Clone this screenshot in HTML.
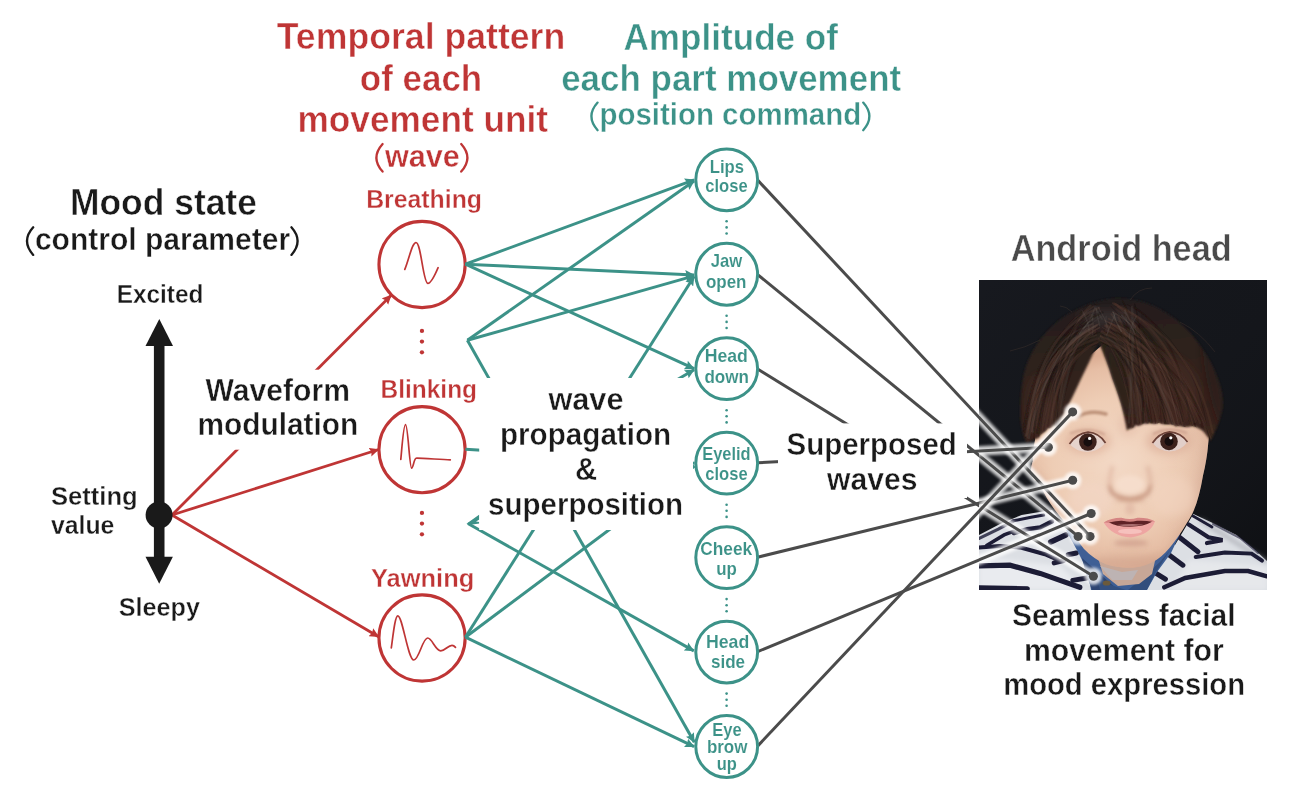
<!DOCTYPE html>
<html>
<head>
<meta charset="utf-8">
<title>Android mood expression diagram</title>
<style>
  html, body { margin: 0; padding: 0; background: #ffffff; }
  body { width: 1298px; height: 807px; overflow: hidden; font-family: "Liberation Sans", sans-serif; }
  svg { display: block; }
  text { font-family: "Liberation Sans", sans-serif; font-weight: bold; stroke: #ffffff; stroke-linejoin: round; }
  .red { fill: #bf3535; }
  .teal { fill: #3c9288; }
  .blk { fill: #1a1a1a; }
  .gry { fill: #4a4a4a; }
  .rl { stroke: #bf3535; stroke-width: 2.8; fill: none; }
  .tl { stroke: #3c9288; stroke-width: 3; fill: none; }
  .gl { stroke: #4b4b4b; stroke-width: 3; fill: none; stroke-linecap: butt; }
  .rc { stroke: #bf3535; stroke-width: 3.1; fill: #ffffff; }
  .tc { stroke: #3c9288; stroke-width: 3; fill: #ffffff; }
  .wv { stroke: #bf3535; stroke-width: 1.7; fill: none; stroke-linecap: round; stroke-linejoin: round; }
</style>
</head>
<body>
<svg width="1298" height="807" viewBox="0 0 1298 807">
  <defs>
    <marker id="ar" viewBox="0 0 10 10" refX="9.4" refY="5" markerWidth="9.6" markerHeight="9.6" markerUnits="userSpaceOnUse" orient="auto">
      <path d="M0,0.2 L10,5 L0,9.8 L1.6,5 Z" fill="#bf3535"/>
    </marker>
    <marker id="at" viewBox="0 0 10 10" refX="9.4" refY="5" markerWidth="9.6" markerHeight="9.6" markerUnits="userSpaceOnUse" orient="auto">
      <path d="M0,0.2 L10,5 L0,9.8 L1.6,5 Z" fill="#3c9288"/>
    </marker>

    <linearGradient id="bgv" x1="0" y1="0" x2="1" y2="1">
      <stop offset="0" stop-color="#181a20" stop-opacity="0.8"/>
      <stop offset="0.5" stop-color="#15171c" stop-opacity="0.3"/>
      <stop offset="1" stop-color="#0d0e11" stop-opacity="0.85"/>
    </linearGradient>
    <radialGradient id="skin" gradientUnits="userSpaceOnUse" cx="1118" cy="462" r="108">
      <stop offset="0" stop-color="#f3d9c6"/>
      <stop offset="0.6" stop-color="#eecdb5"/>
      <stop offset="0.88" stop-color="#e6bea5"/>
      <stop offset="1" stop-color="#dbad93"/>
    </radialGradient>
    <linearGradient id="skinShade" gradientUnits="userSpaceOnUse" x1="1165" y1="0" x2="1212" y2="0">
      <stop offset="0" stop-color="#c9a394" stop-opacity="0"/>
      <stop offset="1" stop-color="#c29c8c" stop-opacity="0.16"/>
    </linearGradient>
    <linearGradient id="hairG" gradientUnits="userSpaceOnUse" x1="1110" y1="298" x2="1125" y2="440">
      <stop offset="0" stop-color="#231f1d"/>
      <stop offset="0.3" stop-color="#2c201b"/>
      <stop offset="1" stop-color="#3a251e"/>
    </linearGradient>
    <filter id="soft05" x="-10%" y="-10%" width="120%" height="120%"><feGaussianBlur stdDeviation="0.5"/></filter>
    <filter id="soft1" x="-10%" y="-10%" width="120%" height="120%"><feGaussianBlur stdDeviation="0.9"/></filter>
    <filter id="soft2" x="-30%" y="-30%" width="160%" height="160%"><feGaussianBlur stdDeviation="2.2"/></filter>
    <filter id="soft3" x="-40%" y="-40%" width="180%" height="180%"><feGaussianBlur stdDeviation="4"/></filter>
    <clipPath id="faceClip"><path d="M1042,396 C1037,412 1035.5,428 1035,440 C1033,450 1032,458 1033,466 C1034,474 1037,480 1041,487 C1045,495 1049,502 1054.8,509.8 C1060,517 1066,524 1071.6,530 C1076,537.5 1079.5,543.5 1084,549 C1091,556 1098,561 1106,564.2 C1115,567 1124,568 1133,567.8 C1142,567 1150,564 1157,559.5 C1163,555.5 1168,550 1173,543.5 C1178,537 1182,531 1185,526 C1188,521 1190,518 1192.2,514 C1197.5,503 1200.5,490 1203,475.6 C1205.5,465 1207.5,454 1208.2,443.7 L1214,396 L1120,330 Z"/></clipPath>
    <clipPath id="hairClip"><path d="M1026,442 C1021,430 1019.5,415 1020.6,403.7 C1021,392 1022,383 1024,374 C1026,364 1030,356 1034,349 C1039,340 1045,333 1052.5,326 C1060,319 1068,313.5 1077.6,309 C1088,304 1099,300 1111.8,298.8 C1123,298 1134,299 1143.8,302.2 C1156,306 1166,312 1175.7,319.3 C1185,327 1194,336 1200.8,346.7 C1208,357 1213,366 1216.7,376.3 C1220,385 1222,392 1222.4,399.1 C1223,406 1222,412 1220,417.4 C1218,425 1215,432 1210.5,441 L1207,436 C1203,430 1198,427.5 1192,426 C1186,429 1181,424.5 1176,426.5 C1171,422 1165,426.5 1159,422.5 C1154,426 1150,421.5 1146.5,424 C1143,422 1139.5,428 1136,425 C1133,430 1129.5,427 1127,431 C1125.5,423 1124.5,418 1123.3,413 C1120.5,401 1116.5,390 1112.2,378.6 C1108.5,366 1103.5,353 1098.5,342 C1092,356 1086,369 1080,381 C1075,392 1071.5,399 1069,404 C1065,412 1061,420 1057,427 C1054,423 1051,430 1048,428 C1045,434 1041,432 1039,438 C1035,438 1030,443 1026,442 Z"/></clipPath>
    <clipPath id="photoClip"><rect x="979" y="280" width="288" height="310"/></clipPath>
    <filter id="glow" x="-10%" y="-10%" width="120%" height="120%"><feGaussianBlur stdDeviation="1.7"/></filter>

  </defs>
  <rect x="0" y="0" width="1298" height="807" fill="#ffffff"/>

  <g id="red-lines">
    <line class="rl" x1="172" y1="515" x2="391.2" y2="295.2" marker-end="url(#ar)"/>
    <line class="rl" x1="172" y1="515" x2="378.6" y2="449.5" marker-end="url(#ar)"/>
    <line class="rl" x1="172" y1="515" x2="378.6" y2="636.8" marker-end="url(#ar)"/>
  </g>
  <g id="units">
    <circle class="rc" cx="422.05" cy="264.5" r="43.1"/>
    <circle class="rc" cx="422.05" cy="449.7" r="43.1"/>
    <circle class="rc" cx="422.05" cy="638.0" r="43.1"/>
    <path class="wv" d="M404.8,269.4 C409,259 412,243 415.9,242.5 C421,242 423,282 427.7,283.3 C431,284 435,275 438.1,267.7"/>
    <path class="wv" d="M400.8,459.4 C402,447 403.5,424.7 405.5,424.7 C408,424.7 409.5,468 411.6,468.1 C413.2,468.2 414,458.2 416.4,458.2 C420,458 440,459.5 450.3,459.9"/>
    <path class="wv" d="M391.3,647.9 C393,636 395,615.8 397.8,615.8 C402.5,615.8 408,660 413.8,660 C419,660 422.5,638 427.7,638 C432,638 435.5,650.8 440.7,650.8 C445,650.8 448,645.3 452,645.3 C453.6,645.3 454.6,646.3 455.5,647.4"/>
    <g fill="#bf3535">
      <circle cx="421.95" cy="330.9" r="2.15"/>
      <circle cx="421.95" cy="341.6" r="2.15"/>
      <circle cx="421.95" cy="352.3" r="2.15"/>
      <circle cx="421.95" cy="512.9" r="2.15"/>
      <circle cx="421.95" cy="523.6" r="2.15"/>
      <circle cx="421.95" cy="534.3" r="2.15"/>
    </g>
  </g>
  <g id="teal-lines">
    <line class="tl" x1="465.4" y1="264.2" x2="694.1" y2="179.8" marker-end="url(#at)"/>
    <line class="tl" x1="465.4" y1="264.2" x2="694.1" y2="275.05" marker-end="url(#at)"/>
    <line class="tl" x1="465.4" y1="264.2" x2="694.1" y2="368.7" marker-end="url(#at)"/>
    <line class="tl" x1="467.4" y1="340.3" x2="694.1" y2="181.0" marker-end="url(#at)"/>
    <line class="tl" x1="467.4" y1="340.3" x2="694.1" y2="275.85" marker-end="url(#at)"/>
    <line class="tl" x1="467.4" y1="340.3" x2="694.3000000000001" y2="742.3" marker-end="url(#at)"/>
    <line class="tl" x1="465.4" y1="449.3" x2="694.6" y2="463.15"/>
    <line class="tl" x1="465.4" y1="637.2" x2="694.1" y2="276.45" marker-end="url(#at)"/>
    <line class="tl" x1="465.4" y1="637.2" x2="694.6" y2="465.95"/>
    <line class="tl" x1="465.4" y1="637.2" x2="694.1" y2="746.7" marker-end="url(#at)"/>
    <line class="tl" x1="467.9" y1="523.5" x2="693.8000000000001" y2="650.8499999999999" marker-end="url(#at)"/>
    <path d="M466.4,523.8 L479.4,514.6 L479.4,519.4 L476,521.6 L479.4,521.9 L479.4,523.6 L472.5,524.6 Z" fill="#3c9288"/>
    <line class="tl" x1="640" y1="401.5" x2="694.1" y2="369.7" marker-end="url(#at)"/>
  </g>
  <g id="grey-lines">
    <line class="gl" x1="757.5999999999999" y1="180.10000000000002" x2="1090.1" y2="536.4"/>
    <line class="gl" x1="757.5999999999999" y1="274.55" x2="1078.1" y2="536.4"/>
    <line class="gl" x1="757.5999999999999" y1="369.0" x2="1093.4" y2="576.2"/>
    <line class="gl" x1="757.5999999999999" y1="462.75" x2="1048.4" y2="447.3"/>
    <line class="gl" x1="757.5999999999999" y1="557.2" x2="1072.7" y2="480.3"/>
    <line class="gl" x1="757.5999999999999" y1="651.65" x2="1091.2" y2="513.5"/>
    <line class="gl" x1="757.5999999999999" y1="746.1" x2="1072.7" y2="411.9"/>
  </g>
  <rect x="195" y="369.7" width="166" height="80" fill="#ffffff"/>
  <rect x="479.2" y="378" width="213.8" height="152" fill="#ffffff"/>
  <rect x="778" y="423.4" width="189" height="74.6" fill="#ffffff"/>
  <g id="photo" clip-path="url(#photoClip)">
    <rect x="979" y="280" width="288" height="310" fill="#14161b"/>
    <rect x="979" y="280" width="288" height="310" fill="url(#bgv)"/>
    <path d="M979,535 L1000,524 L1021.6,515 L1042.5,511.6 L1052,510 L1080,545 L1175,545 L1193.4,514 L1213.2,523.3 L1236.5,534.9 L1253.9,548.9 L1267,561 L1267,590 L979,590 Z" fill="#dcdfe4"/>
    <g filter="url(#soft2)"><path d="M979,556 L1060,566 L1085,590 L979,590 Z" fill="#eceef1" opacity="0.8"/><path d="M1190,560 L1267,566 L1267,590 L1170,590 Z" fill="#e9ebee" opacity="0.7"/><path d="M1200,520 L1267,562" stroke="#9a9ca4" stroke-width="5" opacity="0.5"/></g>
    <g stroke="#1d1b36" stroke-width="3.6" fill="none" stroke-linecap="round" filter="url(#soft05)">
      <path d="M1012.3,521 L1029.7,517.5 L1043.7,515.1" stroke-width="3.00" opacity="1"/>
      <path d="M979.2,538.4 L998.3,529.1 L1013.4,521" stroke-width="3.25" opacity="0.8"/>
      <path d="M1014,533 L1027.4,529.1 L1040.2,527.4 L1051.9,521.5" stroke-width="4.50" opacity="1"/>
      <path d="M986.6,545.4 L1004.1,534.9 L1013.4,531.4" stroke-width="3.50" opacity="1"/>
      <path d="M1050.7,541.9 L1065.8,534.9" stroke-width="5.50" opacity="1"/>
      <path d="M979,547.5 L1000,546 L1021.6,547.7 L1044.9,554.2 L1058,560" stroke-width="4.00" opacity="1"/>
      <path d="M1068.2,554.7 L1076.3,553" stroke-width="5.00" opacity="1"/>
      <path d="M1054.2,562.9 L1063.5,560.6" stroke-width="5.00" opacity="1"/>
      <path d="M979.2,565.8 L1009.9,565.2 L1040.2,573.4 L1060,580.4 L1079.8,587.3" stroke-width="5.25" opacity="1"/>
      <path d="M1072.8,580.4 L1086.8,578" stroke-width="5.00" opacity="1"/>
      <path d="M979.2,587.8 L1027.4,588.7" stroke-width="5.00" opacity="1"/>
      <path d="M1188.7,524.5 L1208.5,537.3 L1222.5,540.2 L1207,543" stroke-width="4.25" opacity="1"/>
      <path d="M1193,516 L1212,527" stroke-width="2.75" opacity="1"/>
      <path d="M1179.4,537.3 L1198,551.8" stroke-width="5.00" opacity="1"/>
      <path d="M1168.9,554.7 L1182.9,565.2" stroke-width="5.00" opacity="1"/>
      <path d="M1156.1,573.4 L1165.4,579.2" stroke-width="5.00" opacity="1"/>
      <path d="M1195.7,557 L1224.8,552.4 L1251.6,553.6 L1262,560.6" stroke-width="4.00" opacity="1"/>
      <path d="M1164.3,587.3 L1185.2,578 L1224.8,571 L1248.1,571 L1267,576.3" stroke-width="4.50" opacity="1"/>
      <path d="M1213,524 L1240,538 L1258,553" stroke-width="2.00" opacity="0.6"/>
    </g>
    <path d="M1066,530 L1090,530 L1130,540 L1170,530 L1180,534 L1171,553 L1157,572 L1147,590 L1091,590 L1088,572 L1078,552 Z" fill="#3f5f95"/>
    <path d="M1082,558 L1100,574 L1118,590 L1092,590 L1086,574 Z" fill="#2c4472"/>
    <path d="M1146.8,590 L1156,572 L1170,550 L1160,562 L1140,580 L1128,590 Z" fill="#324e7d"/>
    <path d="M1094,545 L1116,555 L1135,557 L1158,548 L1152,574 L1139,584 L1118,586 L1103,574 Z" fill="#c7a797"/>
    <path d="M1100,566 L1122,572 L1138,570 L1132,580 L1112,580 Z" fill="#bdb3b3"/>
    <path d="M1096,574 L1108,584 L1126,590 L1100,590 Z" fill="#34507f"/>
    <ellipse cx="1106.6" cy="583" rx="4" ry="2.6" fill="#6b5a3c"/>
    <ellipse cx="1036" cy="470" rx="5" ry="11" fill="#e4bcaa"/>
    <g filter="url(#soft05)"><path d="M1042,396 C1037,412 1035.5,428 1035,440 C1033,450 1032,458 1033,466 C1034,474 1037,480 1041,487 C1045,495 1049,502 1054.8,509.8 C1060,517 1066,524 1071.6,530 C1076,537.5 1079.5,543.5 1084,549 C1091,556 1098,561 1106,564.2 C1115,567 1124,568 1133,567.8 C1142,567 1150,564 1157,559.5 C1163,555.5 1168,550 1173,543.5 C1178,537 1182,531 1185,526 C1188,521 1190,518 1192.2,514 C1197.5,503 1200.5,490 1203,475.6 C1205.5,465 1207.5,454 1208.2,443.7 L1214,396 L1120,330 Z" fill="url(#skin)"/></g>
    <g clip-path="url(#faceClip)">
      <path d="M1042,396 C1037,412 1035.5,428 1035,440 C1033,450 1032,458 1033,466 C1034,474 1037,480 1041,487 C1045,495 1049,502 1054.8,509.8 C1060,517 1066,524 1071.6,530 C1076,537.5 1079.5,543.5 1084,549 C1091,556 1098,561 1106,564.2 C1115,567 1124,568 1133,567.8 C1142,567 1150,564 1157,559.5 C1163,555.5 1168,550 1173,543.5 C1178,537 1182,531 1185,526 C1188,521 1190,518 1192.2,514 C1197.5,503 1200.5,490 1203,475.6 C1205.5,465 1207.5,454 1208.2,443.7 L1214,396 L1120,330 Z" fill="url(#skinShade)"/>
      <g filter="url(#soft3)">
        <ellipse cx="1132" cy="562" rx="42" ry="7" fill="#cfa28d" opacity="0.55"/>
        <ellipse cx="1045" cy="495" rx="7" ry="30" fill="#d2a590" opacity="0.5" transform="rotate(-26 1045 495)"/>
        <ellipse cx="1203" cy="480" rx="5" ry="42" fill="#cda28f" opacity="0.35" transform="rotate(8 1203 480)"/>
        <ellipse cx="1182" cy="537" rx="6" ry="22" fill="#d0a48d" opacity="0.4" transform="rotate(32 1182 537)"/>
        <ellipse cx="1088" cy="441" rx="23" ry="13" fill="#deb09a" opacity="0.7"/>
        <ellipse cx="1169" cy="441" rx="23" ry="13" fill="#dcae99" opacity="0.7"/>
        <ellipse cx="1128" cy="425" rx="10" ry="12" fill="#e3baa6" opacity="0.5"/>
        <ellipse cx="1090" cy="500" rx="22" ry="18" fill="#f3d7c6" opacity="0.55"/>
        <ellipse cx="1172" cy="496" rx="22" ry="20" fill="#f1d4c0" opacity="0.6"/>
      </g>
      <g filter="url(#soft2)">
        <path d="M1109.5,485 Q1110.5,495.5 1120,496.8 Q1130,500.5 1140,496.8 Q1149.5,495.5 1150.5,485" stroke="#bd8a74" stroke-width="3.4" fill="none" opacity="0.85"/>
        <ellipse cx="1130" cy="500" rx="15" ry="2.4" fill="#c9977f" opacity="0.55"/>
        <path d="M1112.5,466 Q1109.5,476 1109,487" stroke="#dcb19c" stroke-width="4.5" fill="none" opacity="0.55"/>
        <path d="M1147.5,466 Q1150.5,476 1151,487" stroke="#d7ab97" stroke-width="4.5" fill="none" opacity="0.55"/>
        <ellipse cx="1130" cy="484.5" rx="14.5" ry="9.5" fill="#f6decd" opacity="0.9"/>
        <ellipse cx="1130" cy="509" rx="5" ry="6" fill="#d6a996" opacity="0.45"/>
        <ellipse cx="1131" cy="543" rx="17" ry="3.6" fill="#cb9a88" opacity="0.65"/>
      </g>
    </g>
    <g filter="url(#soft1)">
      <path d="M1077,417 Q1090,409.5 1106,414" stroke="#b08269" stroke-width="3.4" fill="none" stroke-linecap="round" opacity="0.8"/>
      <path d="M1152,414 Q1170,409 1186,417" stroke="#a67c68" stroke-width="3" fill="none" stroke-linecap="round" opacity="0.45"/>
      <path d="M1070,433.5 Q1087,426 1105,434.5" stroke="#c39582" stroke-width="1.8" fill="none" opacity="0.7"/>
      <path d="M1153,434 Q1170,426 1187,433" stroke="#c09180" stroke-width="1.8" fill="none" opacity="0.7"/>
    </g>
    <g filter="url(#soft05)">
      <path d="M1069.5,444 Q1077,434 1088,433 Q1099,433.6 1105.5,443 Q1098,451.5 1087,452 Q1076,451.5 1069.5,444 Z" fill="#e6d3cc"/>
      <path d="M1152.5,443 Q1159,433.6 1169.5,432.6 Q1181,433.4 1187.5,442 Q1181,451 1169.5,451.5 Q1159,451 1152.5,443 Z" fill="#e2cfc9"/>
      <circle cx="1087.9" cy="442" r="8.8" fill="#3d211e"/><circle cx="1169" cy="441.4" r="8.8" fill="#3d211e"/>
      <circle cx="1087.9" cy="442" r="4.4" fill="#150909"/><circle cx="1169" cy="441.4" r="4.4" fill="#150909"/>
      <path d="M1069.5,444 Q1077,433.4 1088,432.2 Q1099,432.8 1105.5,443" stroke="#6d4238" stroke-width="1.7" fill="none"/>
      <path d="M1152.5,443 Q1159,433 1169.5,431.8 Q1181,432.6 1187.5,442" stroke="#6d4238" stroke-width="1.7" fill="none"/>
      <circle cx="1089.6" cy="438.4" r="1.6" fill="#ffffff"/><circle cx="1170.8" cy="437.8" r="1.6" fill="#ffffff"/>
    </g>
    <g filter="url(#soft05)">
      <path d="M1103.7,522.4 Q1112,518.6 1121.5,518.8 Q1130,521.4 1137.5,518.8 Q1147,518.2 1155,521.2 Q1151,534 1131,537.6 Q1112,536 1103.7,522.4 Z" fill="#eea5a2"/>
      <path d="M1103.7,522.4 Q1112,517.6 1121.5,517.8 Q1130,520.4 1137.5,517.8 Q1147,517.4 1155,521.2 Q1140,523.2 1130,523.2 Q1118,523.6 1103.7,522.4 Z" fill="#d58583"/>
      <path d="M1109,522.6 Q1118,520.4 1124,521 Q1130,522.4 1137,520.8 Q1146,520.4 1152,521.8 Q1144,526.6 1130,526.8 Q1116,526.8 1109,522.6 Z" fill="#5f2426"/>
      <path d="M1117,525 Q1130,523.4 1144,524.6 Q1130,527.8 1117,525 Z" fill="#b57a7b" opacity="0.85"/>
      <ellipse cx="1130" cy="531.4" rx="12" ry="2.6" fill="#f7c8c4" opacity="0.8"/>
    </g>
    <g filter="url(#soft1)"><path d="M1026,442 C1021,430 1019.5,415 1020.6,403.7 C1021,392 1022,383 1024,374 C1026,364 1030,356 1034,349 C1039,340 1045,333 1052.5,326 C1060,319 1068,313.5 1077.6,309 C1088,304 1099,300 1111.8,298.8 C1123,298 1134,299 1143.8,302.2 C1156,306 1166,312 1175.7,319.3 C1185,327 1194,336 1200.8,346.7 C1208,357 1213,366 1216.7,376.3 C1220,385 1222,392 1222.4,399.1 C1223,406 1222,412 1220,417.4 C1218,425 1215,432 1210.5,441 L1207,436 C1203,430 1198,427.5 1192,426 C1186,429 1181,424.5 1176,426.5 C1171,422 1165,426.5 1159,422.5 C1154,426 1150,421.5 1146.5,424 C1143,422 1139.5,428 1136,425 C1133,430 1129.5,427 1127,431 C1125.5,423 1124.5,418 1123.3,413 C1120.5,401 1116.5,390 1112.2,378.6 C1108.5,366 1103.5,353 1098.5,342 C1092,356 1086,369 1080,381 C1075,392 1071.5,399 1069,404 C1065,412 1061,420 1057,427 C1054,423 1051,430 1048,428 C1045,434 1041,432 1039,438 C1035,438 1030,443 1026,442 Z" fill="url(#hairG)"/></g>
    <g clip-path="url(#hairClip)">
      <g filter="url(#soft3)">
        <ellipse cx="1165" cy="392" rx="34" ry="38" fill="#4d3128" opacity="0.42" transform="rotate(-20 1165 392)"/>
        <ellipse cx="1040" cy="405" rx="12" ry="30" fill="#4b3129" opacity="0.5"/>
        <ellipse cx="1108" cy="318" rx="30" ry="8" fill="#48433f" opacity="0.45"/>
        <ellipse cx="1214" cy="385" rx="6" ry="45" fill="#211815" opacity="0.5" transform="rotate(-12 1214 385)"/>
        <ellipse cx="1060" cy="365" rx="8" ry="36" fill="#241a16" opacity="0.45" transform="rotate(24 1060 365)"/>
        <ellipse cx="1118" cy="380" rx="7" ry="40" fill="#2a1c17" opacity="0.55" transform="rotate(-17 1118 380)"/>
      </g>
      <g fill="none" stroke-linecap="round" filter="url(#soft05)">
        <path d="M1103.3,330.3 Q1126.2,349.9 1133.3,430.1" stroke="#1c1310" stroke-width="1.2" opacity="0.18"/>
        <path d="M1105.8,326.0 Q1132.9,353.7 1132.1,430.7" stroke="#573a2f" stroke-width="1.8" opacity="0.26"/>
        <path d="M1111.0,306.1 Q1139.3,332.9 1152.2,422.7" stroke="#1f1512" stroke-width="1.0" opacity="0.30"/>
        <path d="M1100.8,335.9 Q1159.2,359.8 1176.1,429.9" stroke="#65493e" stroke-width="1.6" opacity="0.38"/>
        <path d="M1104.9,326.0 Q1172.0,349.9 1194.8,422.0" stroke="#65493e" stroke-width="2.1" opacity="0.23"/>
        <path d="M1113.0,303.3 Q1174.8,327.7 1192.9,423.0" stroke="#5f4035" stroke-width="2.2" opacity="0.30"/>
        <path d="M1116.2,309.0 Q1164.6,343.2 1178.7,429.4" stroke="#4a3027" stroke-width="1.7" opacity="0.32"/>
        <path d="M1099.9,340.5 Q1184.4,364.9 1213.4,443.7" stroke="#65493e" stroke-width="0.8" opacity="0.27"/>
        <path d="M1100.6,332.8 Q1169.5,354.0 1193.8,422.7" stroke="#504944" stroke-width="0.9" opacity="0.27"/>
        <path d="M1118.2,322.5 Q1182.2,346.8 1202.2,426.5" stroke="#241914" stroke-width="2.5" opacity="0.20"/>
        <path d="M1101.3,333.5 Q1151.4,351.6 1169.2,429.4" stroke="#241914" stroke-width="1.8" opacity="0.31"/>
        <path d="M1102.9,331.7 Q1187.9,357.8 1209.7,438.2" stroke="#1c1310" stroke-width="1.5" opacity="0.26"/>
        <path d="M1101.1,335.3 Q1122.9,355.8 1132.9,424.9" stroke="#573a2f" stroke-width="1.0" opacity="0.30"/>
        <path d="M1118.7,321.8 Q1130.0,349.2 1133.1,424.9" stroke="#65493e" stroke-width="1.9" opacity="0.27"/>
        <path d="M1101.0,340.4 Q1149.6,364.5 1168.8,425.0" stroke="#4a3027" stroke-width="1.7" opacity="0.33"/>
        <path d="M1107.2,324.6 Q1152.6,354.3 1158.5,431.2" stroke="#4a3027" stroke-width="2.6" opacity="0.37"/>
        <path d="M1111.4,314.0 Q1136.4,347.2 1141.5,433.3" stroke="#65493e" stroke-width="1.9" opacity="0.31"/>
        <path d="M1124.2,309.4 Q1147.6,335.2 1147.8,427.0" stroke="#504944" stroke-width="1.4" opacity="0.17"/>
        <path d="M1098.6,339.5 Q1166.4,368.8 1187.2,435.7" stroke="#65493e" stroke-width="2.5" opacity="0.25"/>
        <path d="M1102.0,331.6 Q1140.9,360.5 1144.8,430.8" stroke="#504944" stroke-width="2.4" opacity="0.24"/>
        <path d="M1120.7,314.6 Q1149.2,348.5 1160.8,431.5" stroke="#241914" stroke-width="2.2" opacity="0.24"/>
        <path d="M1129.4,310.1 Q1158.5,337.5 1161.9,435.2" stroke="#1f1512" stroke-width="0.8" opacity="0.30"/>
        <path d="M1112.1,324.5 Q1169.4,346.2 1178.8,427.7" stroke="#1c1310" stroke-width="1.0" opacity="0.16"/>
        <path d="M1127.3,304.3 Q1194.5,340.5 1208.2,433.5" stroke="#19100e" stroke-width="0.9" opacity="0.21"/>
        <path d="M1114.7,321.4 Q1156.2,352.3 1174.4,433.4" stroke="#504944" stroke-width="2.0" opacity="0.36"/>
        <path d="M1116.2,324.1 Q1135.0,353.5 1138.4,423.6" stroke="#1f1512" stroke-width="1.9" opacity="0.35"/>
        <path d="M1100.4,336.9 Q1132.4,358.6 1137.5,422.3" stroke="#504944" stroke-width="2.2" opacity="0.19"/>
        <path d="M1108.6,318.8 Q1175.5,349.4 1194.2,428.8" stroke="#5f4035" stroke-width="1.6" opacity="0.31"/>
        <path d="M1111.3,323.4 Q1154.3,355.0 1166.4,428.6" stroke="#1c1310" stroke-width="2.4" opacity="0.39"/>
        <path d="M1105.2,334.5 Q1173.8,356.0 1200.1,423.2" stroke="#5f4035" stroke-width="2.0" opacity="0.26"/>
        <path d="M1102.4,331.4 Q1175.3,355.9 1194.6,435.7" stroke="#4a3027" stroke-width="2.4" opacity="0.39"/>
        <path d="M1106.5,332.8 Q1159.7,354.5 1169.4,435.8" stroke="#241914" stroke-width="2.6" opacity="0.26"/>
        <path d="M1107.3,323.1 Q1147.4,351.2 1158.8,425.6" stroke="#241914" stroke-width="1.4" opacity="0.31"/>
        <path d="M1105.1,324.9 Q1170.2,350.0 1195.6,436.3" stroke="#573a2f" stroke-width="2.4" opacity="0.20"/>
        <path d="M1124.4,314.6 Q1171.3,345.3 1185.8,435.4" stroke="#1c1310" stroke-width="1.8" opacity="0.33"/>
        <path d="M1099.2,339.6 Q1155.1,361.6 1164.0,421.2" stroke="#4a3027" stroke-width="1.0" opacity="0.37"/>
        <path d="M1100.4,339.1 Q1149.6,358.8 1156.5,429.1" stroke="#1f1512" stroke-width="0.9" opacity="0.33"/>
        <path d="M1134.7,304.0 Q1144.3,337.3 1142.8,435.8" stroke="#19100e" stroke-width="1.3" opacity="0.28"/>
        <path d="M1101.9,332.2 Q1141.9,354.9 1148.8,420.8" stroke="#19100e" stroke-width="1.7" opacity="0.22"/>
        <path d="M1111.6,325.5 Q1172.7,357.0 1184.1,429.0" stroke="#4a3027" stroke-width="2.0" opacity="0.40"/>
        <path d="M1110.1,329.9 Q1164.4,348.7 1182.3,426.7" stroke="#1f1512" stroke-width="0.8" opacity="0.31"/>
        <path d="M1119.2,305.0 Q1170.5,341.0 1184.9,426.4" stroke="#19100e" stroke-width="2.0" opacity="0.17"/>
        <path d="M1101.6,331.8 Q1152.2,353.1 1158.7,425.4" stroke="#573a2f" stroke-width="2.5" opacity="0.23"/>
        <path d="M1102.3,327.4 Q1150.2,352.6 1168.3,428.1" stroke="#573a2f" stroke-width="1.0" opacity="0.36"/>
        <path d="M1102.1,335.8 Q1137.3,364.9 1153.1,430.5" stroke="#1f1512" stroke-width="2.0" opacity="0.33"/>
        <path d="M1118.1,306.7 Q1193.7,339.8 1212.7,432.4" stroke="#573a2f" stroke-width="2.3" opacity="0.33"/>
        <path d="M1110.3,323.2 Q1160.9,351.9 1171.0,434.6" stroke="#573a2f" stroke-width="2.3" opacity="0.30"/>
        <path d="M1125.8,308.3 Q1139.3,334.9 1147.0,421.2" stroke="#5f4035" stroke-width="1.5" opacity="0.27"/>
        <path d="M1098.6,340.2 Q1137.3,356.2 1148.3,424.8" stroke="#1c1310" stroke-width="2.4" opacity="0.18"/>
        <path d="M1115.3,321.3 Q1175.7,352.7 1197.4,434.4" stroke="#19100e" stroke-width="2.1" opacity="0.39"/>
        <path d="M1109.2,322.6 Q1170.6,351.8 1186.5,432.6" stroke="#5f4035" stroke-width="1.9" opacity="0.24"/>
        <path d="M1118.5,317.3 Q1135.4,350.9 1138.6,428.9" stroke="#5f4035" stroke-width="2.0" opacity="0.32"/>
        <path d="M1105.7,330.4 Q1158.8,349.7 1167.6,421.9" stroke="#5f4035" stroke-width="2.5" opacity="0.16"/>
        <path d="M1114.0,326.9 Q1151.6,356.6 1166.1,424.3" stroke="#19100e" stroke-width="0.9" opacity="0.18"/>
        <path d="M1112.4,312.0 Q1162.1,336.9 1179.5,430.2" stroke="#65493e" stroke-width="1.2" opacity="0.38"/>
        <path d="M1104.2,320.1 Q1153.0,342.5 1169.8,427.2" stroke="#65493e" stroke-width="1.5" opacity="0.19"/>
        <path d="M1105.0,328.1 Q1145.8,349.0 1161.6,435.1" stroke="#4a3027" stroke-width="1.3" opacity="0.18"/>
        <path d="M1112.2,324.2 Q1189.9,350.1 1207.5,438.1" stroke="#573a2f" stroke-width="2.3" opacity="0.23"/>
        <path d="M1115.8,304.1 Q1158.0,339.3 1171.5,423.0" stroke="#573a2f" stroke-width="2.3" opacity="0.31"/>
        <path d="M1133.0,306.7 Q1180.2,334.7 1189.6,421.2" stroke="#1f1512" stroke-width="2.0" opacity="0.23"/>
        <path d="M1099.9,337.9 Q1150.6,362.6 1168.1,425.5" stroke="#4a3027" stroke-width="1.5" opacity="0.22"/>
        <path d="M1112.8,320.9 Q1167.4,349.7 1183.0,421.4" stroke="#1c1310" stroke-width="1.2" opacity="0.38"/>
        <path d="M1122.5,301.0 Q1138.5,326.4 1143.7,422.3" stroke="#19100e" stroke-width="1.5" opacity="0.35"/>
        <path d="M1100.5,336.3 Q1143.9,357.5 1160.3,432.1" stroke="#573a2f" stroke-width="1.7" opacity="0.30"/>
        <path d="M1109.2,328.1 Q1171.2,359.4 1195.8,434.4" stroke="#241914" stroke-width="1.5" opacity="0.27"/>
        <path d="M1132.1,307.0 Q1134.2,340.6 1128.9,422.4" stroke="#504944" stroke-width="2.5" opacity="0.28"/>
        <path d="M1100.8,341.7 Q1156.3,366.6 1172.9,427.5" stroke="#19100e" stroke-width="1.1" opacity="0.29"/>
        <path d="M1124.2,316.7 Q1170.0,346.3 1183.3,432.4" stroke="#573a2f" stroke-width="0.8" opacity="0.19"/>
        <path d="M1105.4,321.1 Q1186.7,349.7 1210.7,438.5" stroke="#5f4035" stroke-width="1.0" opacity="0.23"/>
        <path d="M1114.4,303.8 Q1177.9,339.0 1195.8,420.8" stroke="#4a3027" stroke-width="2.5" opacity="0.31"/>
        <path d="M1093.9,305.9 Q1044.9,327.7 1031.4,426.5" stroke="#573a2f" stroke-width="1.1" opacity="0.37"/>
        <path d="M1087.8,315.1 Q1047.0,341.2 1038.1,433.6" stroke="#241914" stroke-width="1.5" opacity="0.26"/>
        <path d="M1097.9,343.8 Q1035.2,364.6 1024.6,432.1" stroke="#19100e" stroke-width="1.2" opacity="0.21"/>
        <path d="M1090.6,315.1 Q1047.0,338.2 1040.8,435.8" stroke="#573a2f" stroke-width="2.5" opacity="0.20"/>
        <path d="M1093.3,329.5 Q1035.2,349.8 1027.4,437.4" stroke="#65493e" stroke-width="2.1" opacity="0.40"/>
        <path d="M1089.8,303.8 Q1058.3,330.8 1057.6,429.0" stroke="#241914" stroke-width="2.3" opacity="0.40"/>
        <path d="M1091.4,322.2 Q1041.2,345.1 1025.1,433.0" stroke="#19100e" stroke-width="1.5" opacity="0.34"/>
        <path d="M1099.4,327.5 Q1058.3,348.5 1048.8,435.7" stroke="#65493e" stroke-width="1.5" opacity="0.38"/>
        <path d="M1097.8,342.7 Q1054.8,356.4 1051.1,437.5" stroke="#573a2f" stroke-width="1.3" opacity="0.34"/>
        <path d="M1090.4,305.6 Q1061.4,333.2 1058.4,430.6" stroke="#65493e" stroke-width="2.5" opacity="0.23"/>
        <path d="M1097.0,315.7 Q1068.0,335.3 1058.0,437.2" stroke="#504944" stroke-width="2.5" opacity="0.25"/>
        <path d="M1096.5,332.2 Q1067.1,355.8 1057.3,435.8" stroke="#1f1512" stroke-width="1.9" opacity="0.24"/>
        <path d="M1095.5,331.2 Q1040.6,349.1 1025.0,435.6" stroke="#5f4035" stroke-width="2.0" opacity="0.28"/>
        <path d="M1090.6,320.3 Q1039.2,340.2 1026.0,437.1" stroke="#241914" stroke-width="1.7" opacity="0.33"/>
        <path d="M1092.9,324.1 Q1056.5,349.4 1045.6,429.9" stroke="#5f4035" stroke-width="2.2" opacity="0.23"/>
        <path d="M1095.1,329.6 Q1040.4,347.1 1031.9,432.7" stroke="#4a3027" stroke-width="2.4" opacity="0.30"/>
        <path d="M1095.7,332.2 Q1054.3,354.7 1041.3,435.2" stroke="#573a2f" stroke-width="1.0" opacity="0.27"/>
        <path d="M1102.5,312.5 Q1034.5,333.2 1023.5,434.5" stroke="#19100e" stroke-width="2.5" opacity="0.25"/>
        <path d="M1093.3,306.8 Q1055.0,331.9 1051.6,426.7" stroke="#65493e" stroke-width="1.2" opacity="0.25"/>
        <path d="M1096.3,335.0 Q1051.1,348.2 1044.8,430.2" stroke="#65493e" stroke-width="1.5" opacity="0.25"/>
        <path d="M1088.2,315.0 Q1048.4,342.0 1040.8,432.2" stroke="#1c1310" stroke-width="1.1" opacity="0.29"/>
        <path d="M1093.5,315.2 Q1064.5,332.7 1059.6,430.0" stroke="#65493e" stroke-width="1.5" opacity="0.16"/>
        <path d="M1101.4,313.0 Q1053.2,336.2 1036.8,433.1" stroke="#1f1512" stroke-width="1.6" opacity="0.36"/>
        <path d="M1100.7,325.9 Q1042.2,350.0 1028.2,437.8" stroke="#241914" stroke-width="1.0" opacity="0.31"/>
        <path d="M1096.6,325.4 Q1048.8,342.0 1032.8,431.7" stroke="#504944" stroke-width="2.2" opacity="0.35"/>
        <path d="M1090.3,312.6 Q1034.1,336.8 1023.7,427.0" stroke="#241914" stroke-width="1.0" opacity="0.33"/>
        <path d="M1102.8,316.0 Q1064.3,335.3 1054.6,430.5" stroke="#504944" stroke-width="1.1" opacity="0.21"/>
        <path d="M1096.6,325.7 Q1041.9,352.3 1026.7,435.0" stroke="#573a2f" stroke-width="2.4" opacity="0.36"/>
        <path d="M1098.5,314.7 Q1051.6,341.6 1036.8,432.5" stroke="#241914" stroke-width="1.4" opacity="0.22"/>
        <path d="M1095.0,326.8 Q1045.9,348.6 1028.8,438.0" stroke="#504944" stroke-width="2.2" opacity="0.35"/>
        <path d="M1092.1,324.0 Q1037.6,341.6 1026.1,436.5" stroke="#504944" stroke-width="1.7" opacity="0.32"/>
        <path d="M1097.4,342.9 Q1041.4,363.3 1033.9,429.4" stroke="#241914" stroke-width="2.0" opacity="0.35"/>
        <path d="M1097.6,341.7 Q1053.5,365.3 1048.3,436.7" stroke="#4a3027" stroke-width="2.5" opacity="0.38"/>
        <path d="M1098.7,338.1 Q1040.9,353.2 1024.5,433.8" stroke="#4a3027" stroke-width="2.4" opacity="0.27"/>
        <path d="M1100.3,332.0 Q1052.0,350.2 1044.5,430.6" stroke="#19100e" stroke-width="1.1" opacity="0.20"/>
        <path d="M1099.0,307.9 Q1037.7,332.4 1028.4,428.6" stroke="#65493e" stroke-width="2.5" opacity="0.27"/>
        <path d="M1098.7,324.0 Q1047.6,348.4 1031.6,431.6" stroke="#65493e" stroke-width="1.3" opacity="0.40"/>
        <path d="M1093.4,321.1 Q1051.2,338.6 1038.8,435.9" stroke="#1c1310" stroke-width="1.3" opacity="0.31"/>
        <path d="M1096.4,304.6 Q1040.7,327.1 1033.9,438.0" stroke="#241914" stroke-width="1.6" opacity="0.25"/>
        <path d="M1097.8,340.8 Q1038.2,357.8 1023.7,437.3" stroke="#1c1310" stroke-width="1.4" opacity="0.21"/>
        <path d="M1115.0,314.2 Q1110.7,324.6 1106.7,335.0" stroke="#7d7872" stroke-width="0.9" opacity="0.23"/>
        <path d="M1094.6,308.1 Q1091.9,318.6 1083.3,329.0" stroke="#7d7872" stroke-width="1.4" opacity="0.16"/>
        <path d="M1095.9,306.2 Q1096.7,316.1 1099.9,326.0" stroke="#7d7872" stroke-width="1.3" opacity="0.16"/>
        <path d="M1136.2,316.3 Q1129.1,328.6 1129.2,340.9" stroke="#7d7872" stroke-width="1.2" opacity="0.16"/>
        <path d="M1094.3,306.8 Q1098.6,312.9 1102.1,319.0" stroke="#7d7872" stroke-width="1.6" opacity="0.12"/>
        <path d="M1092.0,314.5 Q1094.6,325.0 1092.2,335.5" stroke="#7d7872" stroke-width="0.9" opacity="0.14"/>
        <path d="M1098.0,306.7 Q1105.2,318.2 1108.9,329.6" stroke="#7d7872" stroke-width="0.8" opacity="0.22"/>
        <path d="M1124.7,312.5 Q1125.9,321.7 1131.5,330.8" stroke="#7d7872" stroke-width="0.9" opacity="0.13"/>
        <path d="M1082.3,310.7 Q1088.6,321.6 1089.3,332.4" stroke="#7d7872" stroke-width="1.4" opacity="0.14"/>
        <path d="M1113.2,312.1 Q1115.4,321.8 1121.3,331.4" stroke="#7d7872" stroke-width="1.3" opacity="0.24"/>
        <path d="M1093.0,318.3 Q1084.1,326.1 1079.4,334.0" stroke="#7d7872" stroke-width="1.4" opacity="0.23"/>
        <path d="M1124.8,310.6 Q1128.0,318.9 1135.4,327.2" stroke="#7d7872" stroke-width="1.5" opacity="0.19"/>
        <path d="M1121.6,315.3 Q1131.0,324.6 1135.0,333.9" stroke="#7d7872" stroke-width="1.4" opacity="0.22"/>
        <path d="M1106.2,316.1 Q1104.9,324.3 1108.2,332.5" stroke="#7d7872" stroke-width="1.3" opacity="0.11"/>
      </g>
    </g>
    <g fill="none" stroke="#4a3a32" stroke-width="0.7" opacity="0.55">
      <path d="M1040,340 Q1025,348 1010,351"/><path d="M1180,322 Q1200,332 1215,352"/><path d="M1130,300 Q1138,288 1152,288"/><path d="M1072,312 Q1066,306 1060,306"/>
    </g>
    <g>
      <g filter="url(#glow)" opacity="0.8"><line x1="757.5999999999999" y1="180.10000000000002" x2="1090.1" y2="536.4" stroke="#ffffff" stroke-width="9.6" stroke-linecap="round"/><circle cx="1090.1" cy="536.4" r="8.6" fill="#ffffff"/></g>
      <line class="gl" x1="757.5999999999999" y1="180.10000000000002" x2="1090.1" y2="536.4"/>
      <circle cx="1090.1" cy="536.4" r="4.5" fill="#4b4b4b"/>
    </g>
    <g>
      <g filter="url(#glow)" opacity="0.8"><line x1="757.5999999999999" y1="274.55" x2="1078.1" y2="536.4" stroke="#ffffff" stroke-width="9.6" stroke-linecap="round"/><circle cx="1078.1" cy="536.4" r="8.6" fill="#ffffff"/></g>
      <line class="gl" x1="757.5999999999999" y1="274.55" x2="1078.1" y2="536.4"/>
      <circle cx="1078.1" cy="536.4" r="4.5" fill="#4b4b4b"/>
    </g>
    <g>
      <g filter="url(#glow)" opacity="0.8"><line x1="757.5999999999999" y1="369.0" x2="1093.4" y2="576.2" stroke="#ffffff" stroke-width="9.6" stroke-linecap="round"/><circle cx="1093.4" cy="576.2" r="8.6" fill="#ffffff"/></g>
      <line class="gl" x1="757.5999999999999" y1="369.0" x2="1093.4" y2="576.2"/>
      <circle cx="1093.4" cy="576.2" r="4.5" fill="#4b4b4b"/>
    </g>
    <g>
      <g filter="url(#glow)" opacity="0.8"><line x1="757.5999999999999" y1="462.75" x2="1048.4" y2="447.3" stroke="#ffffff" stroke-width="9.6" stroke-linecap="round"/><circle cx="1048.4" cy="447.3" r="8.6" fill="#ffffff"/></g>
      <line class="gl" x1="757.5999999999999" y1="462.75" x2="1048.4" y2="447.3"/>
      <circle cx="1048.4" cy="447.3" r="4.5" fill="#4b4b4b"/>
    </g>
    <g>
      <g filter="url(#glow)" opacity="0.8"><line x1="757.5999999999999" y1="557.2" x2="1072.7" y2="480.3" stroke="#ffffff" stroke-width="9.6" stroke-linecap="round"/><circle cx="1072.7" cy="480.3" r="8.6" fill="#ffffff"/></g>
      <line class="gl" x1="757.5999999999999" y1="557.2" x2="1072.7" y2="480.3"/>
      <circle cx="1072.7" cy="480.3" r="4.5" fill="#4b4b4b"/>
    </g>
    <g>
      <g filter="url(#glow)" opacity="0.8"><line x1="757.5999999999999" y1="651.65" x2="1091.2" y2="513.5" stroke="#ffffff" stroke-width="9.6" stroke-linecap="round"/><circle cx="1091.2" cy="513.5" r="8.6" fill="#ffffff"/></g>
      <line class="gl" x1="757.5999999999999" y1="651.65" x2="1091.2" y2="513.5"/>
      <circle cx="1091.2" cy="513.5" r="4.5" fill="#4b4b4b"/>
    </g>
    <g>
      <g filter="url(#glow)" opacity="0.8"><line x1="757.5999999999999" y1="746.1" x2="1072.7" y2="411.9" stroke="#ffffff" stroke-width="9.6" stroke-linecap="round"/><circle cx="1072.7" cy="411.9" r="8.6" fill="#ffffff"/></g>
      <line class="gl" x1="757.5999999999999" y1="746.1" x2="1072.7" y2="411.9"/>
      <circle cx="1072.7" cy="411.9" r="4.5" fill="#4b4b4b"/>
    </g>
  </g>
  <g id="mood-arrow" fill="#1a1a1a">
    <rect x="153.9" y="345" width="10.6" height="213"/>
    <path d="M159.3,319 L173,345.9 L145.5,345.9 Z"/>
    <path d="M159.2,583.8 L172.9,556.8 L145.5,556.8 Z"/>
    <circle cx="159.1" cy="515" r="13.5"/>
  </g>
  <g id="parts">
    <circle class="tc" cx="726.7" cy="179.8" r="30.9"/>
    <circle class="tc" cx="726.7" cy="274.25" r="30.9"/>
    <circle class="tc" cx="726.7" cy="368.7" r="30.9"/>
    <circle class="tc" cx="726.7" cy="463.15" r="30.9"/>
    <circle class="tc" cx="726.7" cy="557.6" r="30.9"/>
    <circle class="tc" cx="726.7" cy="652.05" r="30.9"/>
    <circle class="tc" cx="726.7" cy="746.5" r="30.9"/>
    <g fill="#3c9288">
      <circle cx="726.6" cy="221.3" r="1.3"/>
      <circle cx="726.6" cy="227.4" r="1.3"/>
      <circle cx="726.6" cy="233.5" r="1.3"/>
      <circle cx="726.6" cy="315.8" r="1.3"/>
      <circle cx="726.6" cy="321.9" r="1.3"/>
      <circle cx="726.6" cy="328.0" r="1.3"/>
      <circle cx="726.6" cy="410.2" r="1.3"/>
      <circle cx="726.6" cy="416.3" r="1.3"/>
      <circle cx="726.6" cy="422.4" r="1.3"/>
      <circle cx="726.6" cy="504.7" r="1.3"/>
      <circle cx="726.6" cy="510.8" r="1.3"/>
      <circle cx="726.6" cy="516.9" r="1.3"/>
      <circle cx="726.6" cy="599.1" r="1.3"/>
      <circle cx="726.6" cy="605.2" r="1.3"/>
      <circle cx="726.6" cy="611.3" r="1.3"/>
      <circle cx="726.6" cy="693.6" r="1.3"/>
      <circle cx="726.6" cy="699.7" r="1.3"/>
      <circle cx="726.6" cy="705.8" r="1.3"/>
    </g>
    <g class="teal">
      <text x="709.79" y="172.5" font-size="18" stroke-width="0.1" textLength="34.33" lengthAdjust="spacingAndGlyphs">Lips</text>
      <text x="705.19" y="192.2" font-size="18" stroke-width="0.1" textLength="42.43" lengthAdjust="spacingAndGlyphs">close</text>
      <text x="710.79" y="267.1" font-size="18" stroke-width="0.1" textLength="31.53" lengthAdjust="spacingAndGlyphs">Jaw</text>
      <text x="705.89" y="287.5" font-size="18" stroke-width="0.1" textLength="40.63" lengthAdjust="spacingAndGlyphs">open</text>
      <text x="704.69" y="362.2" font-size="18" stroke-width="0.1" textLength="43.23" lengthAdjust="spacingAndGlyphs">Head</text>
      <text x="704.39" y="382.6" font-size="18" stroke-width="0.1" textLength="44.53" lengthAdjust="spacingAndGlyphs">down</text>
      <text x="702.19" y="460.3" font-size="18" stroke-width="0.1" textLength="48.43" lengthAdjust="spacingAndGlyphs">Eyelid</text>
      <text x="705.19" y="480.3" font-size="18" stroke-width="0.1" textLength="42.43" lengthAdjust="spacingAndGlyphs">close</text>
      <text x="700.19" y="554.6" font-size="18" stroke-width="0.1" textLength="52.03" lengthAdjust="spacingAndGlyphs">Cheek</text>
      <text x="716.29" y="574.8" font-size="18" stroke-width="0.1" textLength="20.63" lengthAdjust="spacingAndGlyphs">up</text>
      <text x="705.89" y="647.5" font-size="18" stroke-width="0.1" textLength="43.33" lengthAdjust="spacingAndGlyphs">Head</text>
      <text x="710.99" y="667.5" font-size="18" stroke-width="0.1" textLength="34.13" lengthAdjust="spacingAndGlyphs">side</text>
      <text x="712.19" y="736.2" font-size="18" stroke-width="0.1" textLength="29.43" lengthAdjust="spacingAndGlyphs">Eye</text>
      <text x="706.89" y="753.2" font-size="18" stroke-width="0.1" textLength="40.53" lengthAdjust="spacingAndGlyphs">brow</text>
      <text x="716.79" y="769.9" font-size="18" stroke-width="0.1" textLength="20.13" lengthAdjust="spacingAndGlyphs">up</text>
    </g>
  </g>
  <g id="labels">
    <g class="red">
      <text x="276.74" y="49.4" font-size="36.8" stroke-width="0.5" textLength="288.53" lengthAdjust="spacingAndGlyphs">Temporal pattern</text>
      <text x="359.84" y="90.5" font-size="36.8" stroke-width="0.5" textLength="122.33" lengthAdjust="spacingAndGlyphs">of each</text>
      <text x="297.44" y="131.8" font-size="36.8" stroke-width="0.5" textLength="250.63" lengthAdjust="spacingAndGlyphs">movement unit</text>
      <text x="384.92" y="166.6" font-size="30.6" stroke-width="0.41" textLength="75.0" lengthAdjust="spacingAndGlyphs">wave</text>
      <text x="366.14" y="207.9" font-size="25.8" stroke-width="0.35" textLength="115.89" lengthAdjust="spacingAndGlyphs">Breathing</text>
      <text x="380.54" y="398.1" font-size="25.8" stroke-width="0.35" textLength="96.49" lengthAdjust="spacingAndGlyphs">Blinking</text>
      <text x="371.04" y="586.6" font-size="25.8" stroke-width="0.35" textLength="103.19" lengthAdjust="spacingAndGlyphs">Yawning</text>
    </g>
    <path d="M382.6,144.0 Q370.20000000000005,157.8 382.6,171.6" stroke="#bf3535" stroke-width="2.3" fill="none" stroke-linecap="round"/>
    <path d="M461.2,144.0 Q473.59999999999997,157.8 461.2,171.6" stroke="#bf3535" stroke-width="2.3" fill="none" stroke-linecap="round"/>
    <g class="teal">
      <text x="623.54" y="49.8" font-size="36.8" stroke-width="0.5" textLength="214.43" lengthAdjust="spacingAndGlyphs">Amplitude of</text>
      <text x="561.14" y="90.5" font-size="36.8" stroke-width="0.5" textLength="340.03" lengthAdjust="spacingAndGlyphs">each part movement</text>
      <text x="599.42" y="125.2" font-size="30.6" stroke-width="0.41" textLength="261.8" lengthAdjust="spacingAndGlyphs">position command</text>
    </g>
    <path d="M597.6,102.6 Q585.2,116.39999999999999 597.6,130.2" stroke="#3c9288" stroke-width="2.3" fill="none" stroke-linecap="round"/>
    <path d="M863.2,102.6 Q875.6,116.39999999999999 863.2,130.2" stroke="#3c9288" stroke-width="2.3" fill="none" stroke-linecap="round"/>
    <g class="blk">
      <text x="69.94" y="214.7" font-size="36.8" stroke-width="0.5" textLength="186.93" lengthAdjust="spacingAndGlyphs">Mood state</text>
      <text x="34.92" y="249.9" font-size="30.6" stroke-width="0.41" textLength="255.2" lengthAdjust="spacingAndGlyphs">control parameter</text>
      <text x="116.64" y="302.7" font-size="25.8" stroke-width="0.35" textLength="86.79" lengthAdjust="spacingAndGlyphs">Excited</text>
      <text x="118.84" y="615.9" font-size="25.8" stroke-width="0.35" textLength="81.19" lengthAdjust="spacingAndGlyphs">Sleepy</text>
      <text x="50.94" y="504.5" font-size="25.8" stroke-width="0.35" textLength="86.79" lengthAdjust="spacingAndGlyphs">Setting</text>
      <text x="50.94" y="533.7" font-size="25.8" stroke-width="0.35" textLength="63.49" lengthAdjust="spacingAndGlyphs">value</text>
      <text x="205.49" y="401.1" font-size="31.4" stroke-width="0.42" textLength="144.47" lengthAdjust="spacingAndGlyphs">Waveform</text>
      <text x="197.59" y="435.2" font-size="31.4" stroke-width="0.42" textLength="160.67" lengthAdjust="spacingAndGlyphs">modulation</text>
      <text x="548.39" y="409.8" font-size="31.4" stroke-width="0.42" textLength="75.17" lengthAdjust="spacingAndGlyphs">wave</text>
      <text x="499.99" y="444.7" font-size="31.4" stroke-width="0.42" textLength="171.17" lengthAdjust="spacingAndGlyphs">propagation</text>
      <text x="575.09" y="479.7" font-size="31.4" stroke-width="0.42" textLength="22.17" lengthAdjust="spacingAndGlyphs">&amp;</text>
      <text x="488.09" y="514.7" font-size="31.4" stroke-width="0.42" textLength="194.97" lengthAdjust="spacingAndGlyphs">superposition</text>
      <text x="786.49" y="454.9" font-size="31.4" stroke-width="0.42" textLength="170.37" lengthAdjust="spacingAndGlyphs">Superposed</text>
      <text x="827.09" y="489.6" font-size="31.4" stroke-width="0.42" textLength="90.27" lengthAdjust="spacingAndGlyphs">waves</text>
      <text x="1011.99" y="625.7" font-size="31.4" stroke-width="0.42" textLength="223.67" lengthAdjust="spacingAndGlyphs">Seamless facial</text>
      <text x="1023.99" y="660.5" font-size="31.4" stroke-width="0.42" textLength="199.67" lengthAdjust="spacingAndGlyphs">movement for</text>
      <text x="1003.19" y="695.2" font-size="31.4" stroke-width="0.42" textLength="241.87" lengthAdjust="spacingAndGlyphs">mood expression</text>
    </g>
    <path d="M33.2,227.3 Q20.800000000000004,241.10000000000002 33.2,254.9" stroke="#1a1a1a" stroke-width="2.3" fill="none" stroke-linecap="round"/>
    <path d="M291.4,227.3 Q303.79999999999995,241.10000000000002 291.4,254.9" stroke="#1a1a1a" stroke-width="2.3" fill="none" stroke-linecap="round"/>
    <g class="gry"><text x="1010.64" y="260.7" font-size="36.8" stroke-width="0.5" textLength="221.13" lengthAdjust="spacingAndGlyphs">Android head</text></g>
  </g>
</svg>
</body>
</html>
